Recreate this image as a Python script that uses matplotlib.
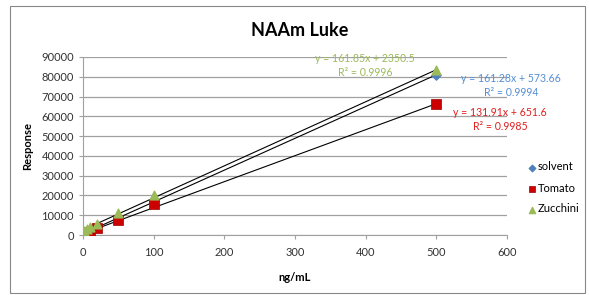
import matplotlib
matplotlib.use("Agg")
import matplotlib.pyplot as plt
import numpy as np
from matplotlib.patches import Rectangle

plt.rcParams['font.family'] = ['Lato', 'DejaVu Sans']

conc = [1, 5, 10, 20, 50, 100, 500]
solvent = [700, 1400, 2200, 3800, 8600, 17000, 81000]
tomato = [200, 700, 1500, 3300, 7400, 15800, 66000]
zucchini = [2000, 3000, 4000, 5800, 11000, 20000, 83300]

eq_solvent = "y = 161.28x + 573.66"
r2_solvent = "R² = 0.9994"
eq_tomato = "y = 131.91x + 651.6"
r2_tomato = "R² = 0.9985"
eq_zucchini = "y = 161.85x + 2350.5"
r2_zucchini = "R² = 0.9996"

fig = plt.figure(figsize=(5.89, 2.95), dpi=100)
fig.patch.set_facecolor('white')
fig.add_artist(Rectangle((10/589, 1-293/295), 575/589, 287/295, transform=fig.transFigure,
                         fill=False, edgecolor='#888888', linewidth=0.8))
ax = fig.add_axes([83/589, 1-235/295, (507-83)/589, (235-57)/295])

blue = '#4f81bd'
green = '#9bbb59'

x = np.array(conc, dtype=float)
for ys in (solvent, tomato, zucchini):
    m, b = np.polyfit(x, ys, 1)
    xs = np.array([x.min(), x.max()])
    ax.plot(xs, m*xs + b, color='black', linewidth=0.8, zorder=2)

ax.scatter(conc, solvent, marker='D', s=22, color=blue, zorder=3, label='solvent')
ax.scatter(conc, tomato, marker='s', s=45, color='#cc0000', edgecolors='#a00000', linewidths=0.5, zorder=3, label='Tomato')
ax.scatter(conc, zucchini, marker='^', s=40, color=green, zorder=4, label='Zucchini')

ax.set_xlim(0, 600)
ax.set_ylim(0, 90000)
ax.set_xticks(range(0, 601, 100))
ax.set_yticks(range(0, 90001, 10000))
ax.yaxis.grid(True, color='#a0a0a0', linewidth=0.9)
ax.set_axisbelow(True)
for s in ['top', 'right']:
    ax.spines[s].set_visible(False)
for s in ['left', 'bottom']:
    ax.spines[s].set_color('#a0a0a0')
ax.tick_params(axis='both', labelsize=8, colors='#a0a0a0', labelcolor='#333333', length=3)
ax.tick_params(axis='x', pad=6)
ax.set_xlabel('ng/mL', fontsize=8, fontweight='bold', labelpad=10)
ax.set_ylabel('Response', fontsize=8, fontweight='bold', labelpad=6)

fig.text(300/589, 1-31/295, 'NAAm Luke', ha='center', va='center', fontsize=13, fontweight='bold')

def ftext(px, py, s, c):
    fig.text(px/589, 1-py/295, s, ha='center', va='center', fontsize=7.6, color=c)

ftext(365, 58, eq_zucchini, green)
ftext(365, 72.5, r2_zucchini, green)
ftext(511, 78, eq_solvent, '#558ed5')
ftext(511, 92, r2_solvent, '#558ed5')
ftext(500, 112, eq_tomato, '#e02020')
ftext(500, 127, r2_tomato, '#e02020')

ax.legend(loc='center left', bbox_to_anchor=(528/589, 1-188/295), bbox_transform=fig.transFigure,
          frameon=False, fontsize=8, handletextpad=0.1, labelspacing=0.9, markerscale=0.7,
          handlelength=0.8, borderaxespad=0, borderpad=0)

fig.savefig('out.png', dpi=100)
